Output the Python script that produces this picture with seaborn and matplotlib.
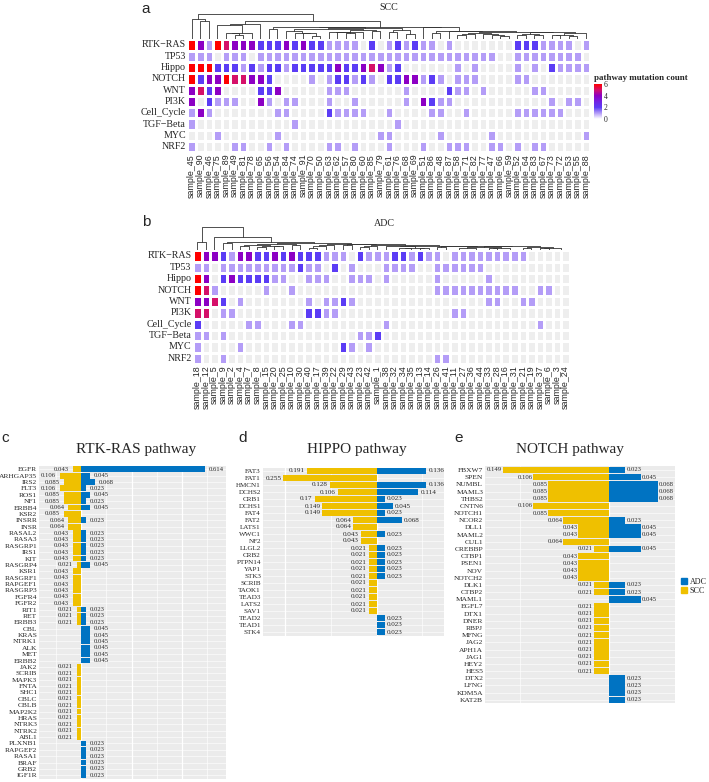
import numpy as np
import pandas as pd
import matplotlib
matplotlib.use("Agg")
import matplotlib.pyplot as plt
import seaborn as sns
from matplotlib.colors import LinearSegmentedColormap, ListedColormap
from matplotlib.patches import Patch

sns.set_style("white")
plt.rcParams["font.family"] = ["Liberation Serif", "DejaVu Serif"]

# ---------------- data: oncoplot-style pathway heatmaps ----------------
pathways = ["RTK−RAS", "TP53", "Hippo", "NOTCH", "WNT", "PI3K",
            "Cell_Cycle", "TGF−Beta", "MYC", "NRF2"]

scc_samples = [45, 90, 46, 75, 89, 49, 81, 78, 65, 56, 54, 84, 74, 91, 70, 50,
               63, 62, 57, 80, 60, 85, 79, 61, 76, 68, 69, 51, 86, 48, 87, 58,
               71, 82, 77, 47, 66, 59, 52, 64, 83, 67, 73, 72, 53, 55, 88]
scc_counts = [
    [6, 4, 1, 6, 5, 4, 4, 4, 2, 2, 2, 4, 2, 4, 2, 2, 1, 1, 1, 1, 0, 2, 0, 1, 2, 1, 2, 1, 1, 0, 1, 0, 0, 0, 0, 0, 0, 0, 2, 2, 2, 1, 1, 1, 1, 0, 1],
    [1, 1, 1, 0, 1, 1, 1, 0, 1, 1, 1, 1, 1, 1, 1, 1, 1, 1, 1, 1, 1, 1, 1, 1, 1, 1, 1, 1, 1, 1, 1, 1, 1, 1, 1, 1, 0, 0, 1, 1, 1, 1, 1, 1, 1, 1, 0],
    [6, 6, 6, 2, 2, 2, 1, 2, 1, 2, 2, 1, 2, 2, 2, 2, 2, 4, 2, 2, 4, 5, 4, 1, 2, 0, 0, 0, 0, 0, 0, 1, 0, 1, 0, 0, 0, 0, 1, 0, 1, 0, 2, 1, 1, 1, 1],
    [6, 2, 4, 4, 6, 5, 5, 4, 4, 2, 0, 0, 0, 0, 1, 0, 1, 2, 2, 1, 2, 1, 0, 2, 2, 4, 4, 1, 2, 1, 0, 1, 1, 1, 0, 0, 0, 0, 1, 1, 0, 0, 0, 0, 0, 0, 0],
    [4, 5, 2, 4, 0, 0, 0, 0, 2, 2, 4, 0, 0, 0, 0, 0, 1, 1, 1, 0, 0, 0, 0, 0, 0, 1, 0, 0, 0, 0, 2, 1, 1, 0, 1, 0, 0, 0, 0, 0, 1, 1, 0, 0, 0, 0, 0],
    [4, 0, 2, 1, 1, 1, 0, 0, 4, 1, 0, 1, 1, 0, 0, 0, 1, 0, 0, 1, 0, 0, 0, 0, 0, 1, 0, 4, 2, 1, 1, 0, 0, 0, 0, 0, 0, 0, 0, 0, 0, 0, 1, 0, 1, 1, 0],
    [1, 4, 1, 0, 0, 0, 0, 0, 0, 0, 1, 1, 0, 0, 0, 0, 2, 1, 1, 1, 1, 0, 0, 1, 0, 0, 0, 0, 1, 1, 0, 0, 1, 0, 0, 0, 0, 0, 1, 1, 1, 1, 1, 1, 0, 0, 0],
    [1, 0, 0, 0, 0, 0, 0, 0, 0, 0, 0, 0, 1, 0, 0, 0, 0, 0, 0, 0, 0, 0, 0, 0, 1, 0, 0, 0, 0, 0, 0, 0, 0, 0, 0, 0, 0, 0, 0, 0, 0, 0, 0, 0, 0, 0, 0],
    [0, 0, 0, 1, 0, 0, 0, 0, 0, 0, 1, 0, 0, 0, 0, 0, 0, 0, 0, 0, 0, 0, 1, 1, 0, 0, 0, 0, 0, 1, 0, 0, 0, 0, 0, 1, 0, 0, 0, 0, 0, 0, 0, 0, 0, 0, 1],
    [1, 0, 0, 0, 0, 1, 1, 0, 0, 1, 0, 1, 0, 0, 0, 0, 1, 1, 0, 1, 0, 0, 0, 1, 0, 0, 0, 1, 0, 0, 1, 1, 1, 0, 0, 1, 1, 0, 1, 0, 1, 1, 0, 0, 0, 0, 0],
]

adc_samples = [18, 12, 5, 9, 2, 4, 7, 8, 15, 20, 25, 10, 30, 40, 17, 39, 22,
               29, 43, 23, 42, 1, 38, 32, 34, 35, 13, 14, 26, 41, 11, 27, 36,
               44, 33, 28, 16, 31, 21, 19, 37, 6, 3, 24]
adc_counts = [
    [6, 4, 4, 2, 1, 4, 4, 2, 2, 4, 2, 4, 2, 2, 2, 1, 1, 1, 0, 2, 1, 1, 1, 2, 2, 1, 2, 1, 1, 0, 1, 1, 1, 1, 1, 1, 1, 1, 1, 0, 0, 0, 0, 0],
    [1, 1, 0, 1, 1, 1, 1, 1, 1, 1, 1, 1, 2, 1, 1, 0, 2, 0, 1, 0, 0, 0, 1, 1, 1, 1, 0, 0, 1, 1, 1, 1, 1, 1, 0, 0, 0, 0, 0, 0, 0, 0, 0, 0],
    [6, 4, 0, 2, 4, 2, 2, 2, 2, 1, 1, 0, 0, 1, 1, 1, 0, 0, 1, 1, 1, 0, 1, 0, 0, 0, 0, 0, 1, 0, 0, 0, 0, 0, 1, 0, 0, 0, 0, 0, 0, 0, 0, 0],
    [6, 5, 1, 0, 0, 0, 0, 0, 1, 0, 0, 1, 0, 0, 0, 0, 0, 0, 0, 0, 0, 0, 0, 0, 0, 0, 0, 0, 1, 1, 1, 1, 1, 1, 1, 1, 1, 1, 0, 0, 1, 1, 0, 0],
    [4, 4, 5, 2, 0, 1, 0, 0, 0, 0, 0, 0, 0, 1, 0, 1, 1, 2, 1, 0, 0, 0, 0, 0, 0, 0, 0, 0, 0, 0, 0, 0, 0, 0, 1, 1, 0, 0, 1, 1, 0, 0, 0, 0],
    [5, 5, 0, 1, 1, 0, 0, 0, 0, 0, 0, 0, 0, 2, 2, 1, 1, 0, 0, 0, 0, 0, 0, 0, 0, 0, 0, 0, 0, 0, 1, 1, 0, 0, 0, 0, 0, 0, 0, 0, 0, 0, 0, 0],
    [2, 0, 0, 0, 0, 0, 1, 1, 0, 0, 0, 1, 1, 0, 0, 0, 0, 0, 0, 0, 0, 0, 1, 0, 0, 0, 0, 0, 0, 0, 0, 0, 0, 0, 0, 0, 0, 0, 0, 0, 1, 0, 0, 0],
    [1, 1, 0, 1, 0, 0, 0, 0, 0, 0, 0, 0, 0, 0, 0, 0, 0, 0, 0, 1, 1, 2, 0, 0, 0, 0, 0, 0, 0, 0, 0, 0, 0, 0, 0, 0, 0, 0, 0, 0, 0, 0, 0, 0],
    [1, 0, 0, 0, 0, 1, 0, 0, 0, 0, 0, 0, 0, 0, 0, 0, 0, 2, 1, 0, 1, 0, 0, 0, 0, 0, 0, 0, 0, 0, 0, 0, 0, 0, 0, 0, 0, 0, 0, 0, 0, 0, 0, 0],
    [1, 0, 0, 1, 0, 0, 0, 0, 0, 0, 0, 0, 0, 0, 0, 0, 0, 0, 0, 0, 0, 0, 0, 0, 0, 0, 0, 0, 1, 1, 0, 0, 0, 0, 0, 0, 0, 0, 0, 0, 0, 0, 0, 0],
]

# ---------------- data: mutation frequency per gene ----------------
rtk_genes = ["EGFR", "ARHGAP35", "IRS2", "FLT3", "ROS1", "NF1", "ERBB4", "KSR2", "INSRR", "INSR",
             "RASAL2", "RASA3", "RASGRP1", "IRS1", "KIT", "RASGRP4", "KSR1", "RASGRF1", "RAPGEF1", "RASGRP3",
             "FGFR4", "FGFR2", "RIT1", "RET", "ERBB3", "CBL", "KRAS", "NTRK1", "ALK", "MET",
             "ERBB2", "JAK2", "SCRIB", "MAPK3", "FNTA", "SHC1", "CBLC", "CBLB", "MAP2K2", "HRAS",
             "NTRK3", "NTRK2", "ABL1", "PLXNB1", "RAPGEF2", "RASA1", "BRAF", "GRB2", "IGF1R"]
rtk_scc = [0.043, 0.106, 0.085, 0.106, 0.085, 0.085, 0.064, 0.085, 0.064, 0.064,
           0.043, 0.043, 0.043, 0.043, 0.043, 0.021, 0.043, 0.043, 0.043, 0.043,
           0.043, 0.043, 0.021, 0.021, 0.021, 0, 0, 0, 0, 0,
           0, 0.021, 0.021, 0.021, 0.021, 0.021, 0.021, 0.021, 0.021, 0.021,
           0.021, 0.021, 0.021, 0, 0, 0, 0, 0, 0]
rtk_adc = [0.614, 0.045, 0.068, 0.023, 0.045, 0.023, 0.045, 0, 0.023, 0,
           0.023, 0.023, 0.023, 0.023, 0.023, 0.045, 0, 0, 0, 0,
           0, 0, 0.023, 0.023, 0.023, 0.045, 0.045, 0.045, 0.045, 0.045,
           0.045, 0, 0, 0, 0, 0, 0, 0, 0, 0,
           0, 0, 0, 0.023, 0.023, 0.023, 0.023, 0.023, 0.023]

hippo_genes = ["FAT3", "FAT1", "HMCN1", "DCHS2", "CRB1", "DCHS1", "FAT4", "FAT2", "LATS1", "WWC1",
               "NF2", "LLGL2", "CRB2", "PTPN14", "YAP1", "STK3", "SCRIB", "TAOK1", "TEAD3", "LATS2",
               "SAV1", "TEAD2", "TEAD1", "STK4"]
hippo_scc = [0.191, 0.255, 0.128, 0.106, 0.17, 0.149, 0.149, 0.064, 0.064, 0.043,
             0.043, 0.021, 0.021, 0.021, 0.021, 0.021, 0.021, 0.021, 0.021, 0.021,
             0.021, 0, 0, 0]
hippo_adc = [0.136, 0, 0.136, 0.114, 0.023, 0.045, 0.023, 0.068, 0, 0.023,
             0, 0.023, 0.023, 0.023, 0.023, 0.023, 0, 0, 0, 0,
             0, 0.023, 0.023, 0.023]

notch_genes = ["FBXW7", "SPEN", "NUMBL", "MAML3", "THBS2", "CNTN6", "NOTCH1", "NCOR2", "DLL1", "MAML2",
               "CUL1", "CREBBP", "CTBP1", "PSEN1", "NOV", "NOTCH2", "DLK1", "CTBP2", "MAML1", "EGFL7",
               "DTX1", "DNER", "RBPJ", "MFNG", "JAG2", "APH1A", "JAG1", "HEY2", "HES5", "DTX2",
               "LFNG", "KDM5A", "KAT2B"]
notch_scc = [0.149, 0.106, 0.085, 0.085, 0.085, 0.106, 0.085, 0.064, 0.043, 0.043,
             0.064, 0.021, 0.043, 0.043, 0.043, 0.043, 0.021, 0.021, 0, 0.021,
             0.021, 0.021, 0.021, 0.021, 0.021, 0.021, 0.021, 0.021, 0.021, 0,
             0, 0, 0]
notch_adc = [0.023, 0.045, 0.068, 0.068, 0.068, 0, 0, 0.023, 0.045, 0.045,
             0, 0.045, 0, 0, 0, 0, 0.023, 0.023, 0.045, 0,
             0, 0, 0, 0, 0, 0, 0, 0, 0, 0.023,
             0.023, 0.023, 0.023]

BLUE = "#0073C2"
YELLOW = "#EFC000"

W, H = 709, 782
fig = plt.figure(figsize=(W / 100, H / 100), dpi=100)


def px_axes(x0, y0, x1, y1):
    return fig.add_axes([x0 / W, 1 - y1 / H, (x1 - x0) / W, (y1 - y0) / H])


mut_cmap = LinearSegmentedColormap.from_list(
    "mut", [(0, "#ffffff"), (1 / 6, "#b39cf7"), (2 / 6, "#5b3cf5"), (3 / 6, "#7222e2"),
            (4 / 6, "#8c00c4"), (5 / 6, "#d4106a"), (1, "#ff0000")])


def dendrogram(ax, mat):
    # average-linkage merging of neighbouring columns (keeps the column order)
    X = np.asarray(mat, float).T
    D = np.sqrt(((X[:, None, :] - X[None, :, :]) ** 2).sum(-1))
    clusters = [([i], i + 0.5, 0.0) for i in range(len(X))]
    while len(clusters) > 1:
        best = None
        for j in range(len(clusters) - 1):
            d = D[np.ix_(clusters[j][0], clusters[j + 1][0])].mean()
            if best is None or d < best[0]:
                best = (d, j)
        d, j = best
        a, b = clusters[j], clusters[j + 1]
        h = max(d, a[2], b[2])
        ax.plot([a[1], a[1], b[1], b[1]], [a[2], h, h, b[2]], color="#333333", lw=0.6)
        clusters[j:j + 2] = [(a[0] + b[0], (a[1] + b[1]) / 2, h)]
    ax.set_xlim(0, len(X))
    ax.set_ylim(0, clusters[0][2] * 1.02)
    ax.axis("off")


def mutation_heatmap(ax, counts, samples, cax=None):
    df = pd.DataFrame(counts, index=pathways, columns=[f"sample_{s}" for s in samples])
    sns.heatmap(np.zeros(df.shape), cmap=ListedColormap(["#EEEEEE"]), vmin=0, vmax=1,
                cbar=False, linewidths=0.8, linecolor="white", ax=ax,
                xticklabels=list(df.columns), yticklabels=list(df.index))
    sns.heatmap(df, mask=df.values == 0, cmap=mut_cmap, vmin=0, vmax=6,
                linewidths=0.8, linecolor="white", ax=ax,
                xticklabels=True, yticklabels=True,
                cbar=cax is not None, cbar_ax=cax, cbar_kws={"ticks": [0, 2, 4, 6]})
    ax.tick_params(length=0, pad=1)
    ax.set_yticks(np.arange(len(pathways)) + 0.5)
    ax.set_yticklabels(pathways, rotation=0, fontsize=7.2)
    ax.set_xticks(np.arange(len(samples)) + 0.5)
    ax.set_xticklabels(df.columns, rotation=90, fontsize=6.4, family="Liberation Sans")
    ax.set_xlabel("")
    ax.set_ylabel("")


# panel a
ax_a = px_axes(187.4, 39.3, 590.2, 152.4)
cax = px_axes(594, 84, 601.7, 119)
mutation_heatmap(ax_a, scc_counts, scc_samples, cax)
cb = ax_a.collections[-1].colorbar
cb.outline.set_visible(False)
cax.tick_params(length=0, pad=1.5, labelsize=5.5)
fig.text(594 / W, 1 - 78 / H, "pathway mutation count", fontsize=6.5, weight="bold",
         ha="left", va="center")
dendrogram(px_axes(187.4, 14, 590.2, 39.3), scc_counts)
fig.text(389 / W, 1 - 8 / H, "SCC", fontsize=7.2, ha="center", va="center")

# panel b
ax_b = px_axes(193, 250.3, 570, 364)
mutation_heatmap(ax_b, adc_counts, adc_samples)
dendrogram(px_axes(193, 227, 570, 250.3), adc_counts)
fig.text(384 / W, 1 - 224 / H, "ADC", fontsize=7.2, ha="center", va="center")


def pathway_bars(ax, genes, scc, adc, xlim, nudge, fs, gene_fs):
    n = len(genes)
    df = pd.DataFrame({
        "gene": genes + genes,
        "group": ["SCC"] * n + ["ADC"] * n,
        "freq": [-v for v in scc] + list(adc),
    })
    ax.set_facecolor("#EBEBEB")
    sns.barplot(data=df, x="freq", y="gene", hue="group", hue_order=["ADC", "SCC"],
                palette={"ADC": BLUE, "SCC": YELLOW}, dodge=False, orient="h",
                width=0.92, errorbar=None, saturation=1, legend=False, linewidth=0, ax=ax)
    for i, (s, a) in enumerate(zip(scc, adc)):
        if s > 0:
            ax.annotate(f"{s:g}", (-s, i), xytext=(-nudge, 0), textcoords="offset points",
                        ha="right", va="center", fontsize=fs)
        if a > 0:
            ax.annotate(f"{a:g}", (a, i), xytext=(nudge, 0), textcoords="offset points",
                        ha="left", va="center", fontsize=fs)
    ax.set_xticks(np.arange(-0.5, 1.0, 0.25))
    ax.set_xticks(np.arange(-0.625, 1.0, 0.25), minor=True)
    ax.set_xlim(xlim)
    ax.set_ylim(n - 0.5, -0.5)
    ax.grid(which="major", axis="x", color="white", lw=0.9)
    ax.grid(which="minor", axis="x", color="white", lw=0.45)
    ax.grid(which="major", axis="y", color="white", lw=0.4)
    ax.set_axisbelow(True)
    ax.tick_params(axis="x", which="both", labelbottom=False, length=0)
    ax.tick_params(axis="y", length=0, pad=1.5, labelsize=gene_fs)
    ax.set_xlabel("")
    ax.set_ylabel("")
    for sp in ax.spines.values():
        sp.set_visible(False)


ax_c = px_axes(39.3, 466.1, 226, 778.5)
pathway_bars(ax_c, rtk_genes, rtk_scc, rtk_adc, (-0.208, 0.718), 2.8, 4.8, 5.4)
ax_d = px_axes(263, 467.5, 444, 635.5)
pathway_bars(ax_d, hippo_genes, hippo_scc, hippo_adc, (-0.311, 0.184), 1.4, 5.1, 5.1)
ax_e = px_axes(485.3, 466.4, 675, 703.4)
pathway_bars(ax_e, notch_genes, notch_scc, notch_adc, (-0.1735, 0.0925), 0.7, 4.8, 5.4)

fig.text(136 / W, 1 - 449 / H, "RTK-RAS pathway", fontsize=11, ha="center", va="center")
fig.text(357 / W, 1 - 449 / H, "HIPPO pathway", fontsize=11, ha="center", va="center")
fig.text(570 / W, 1 - 449 / H, "NOTCH pathway", fontsize=11, ha="center", va="center")

fig.legend(handles=[Patch(color=BLUE), Patch(color=YELLOW)], labels=["ADC", "SCC"],
           loc="upper left", bbox_to_anchor=(681 / W, 1 - 578 / H), frameon=False,
           fontsize=5.8, handlelength=0.8, handleheight=0.8, handletextpad=0.3,
           labelspacing=0.1, borderpad=0, borderaxespad=0)

for lbl, x, y in [("a", 146, 9), ("b", 146, 222), ("c", 5, 438), ("d", 243, 438), ("e", 459, 438)]:
    fig.text(x / W, 1 - y / H, lbl, fontsize=11, family="Liberation Sans", ha="center", va="center")

fig.savefig("out.png", dpi=100)
